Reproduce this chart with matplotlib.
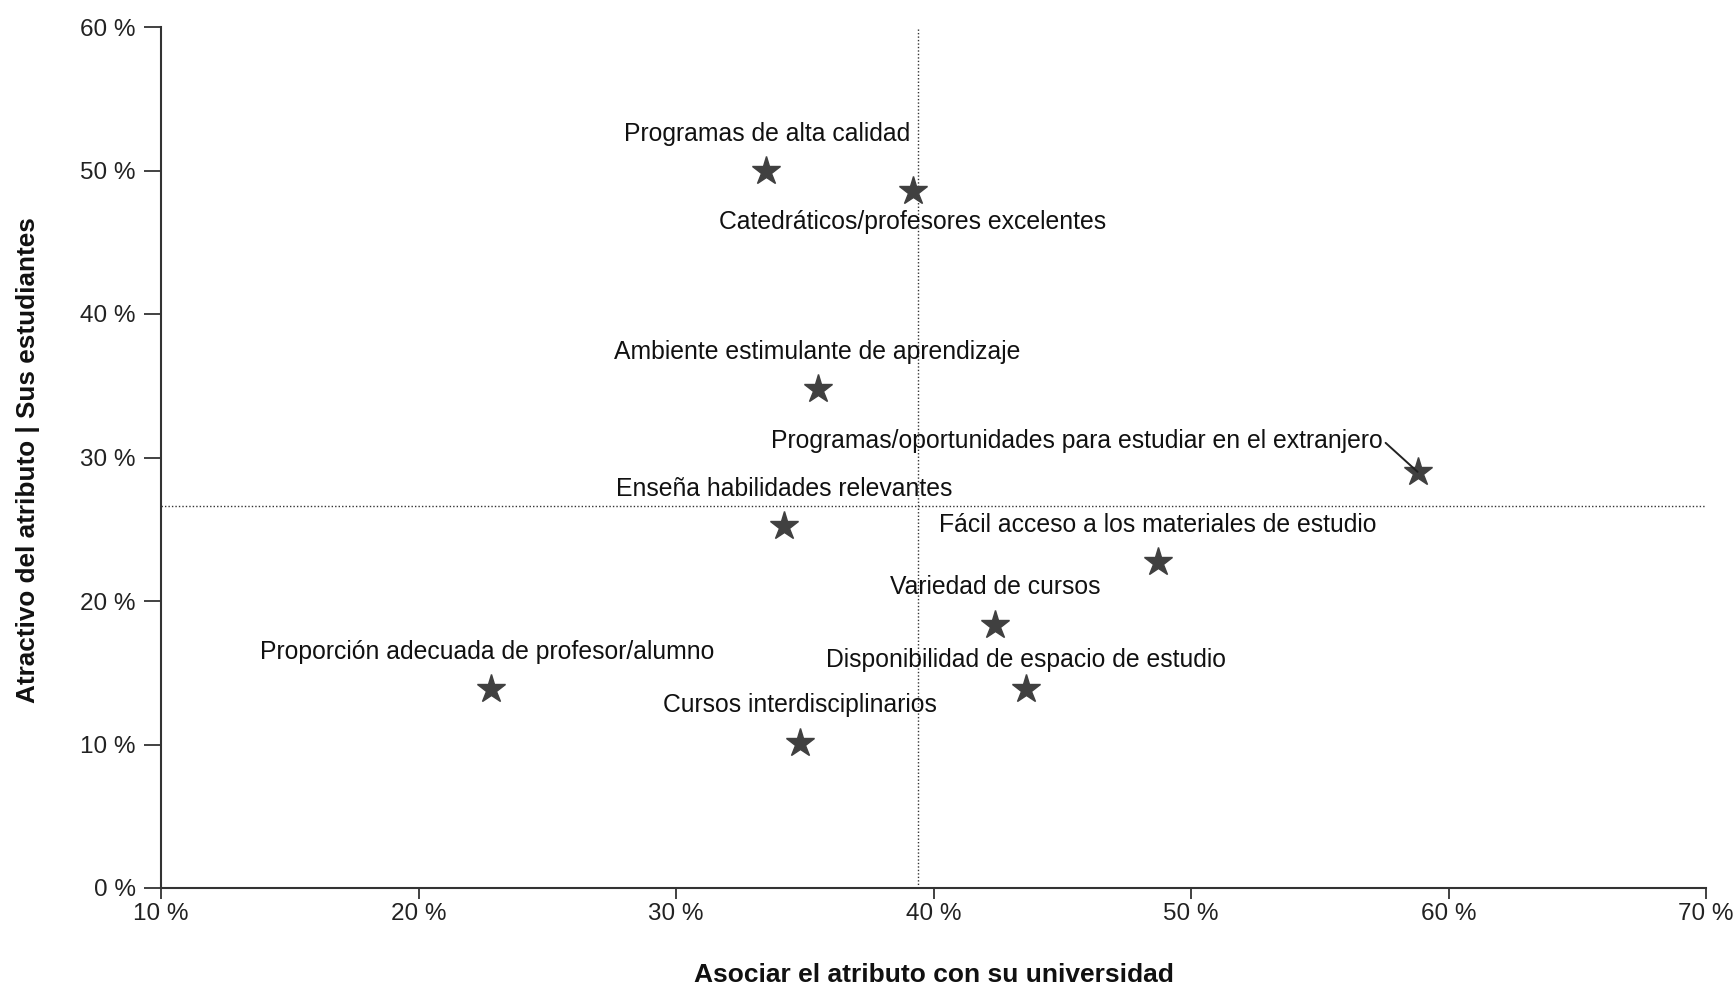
import matplotlib
matplotlib.use("Agg")
import matplotlib.pyplot as plt

# ---- data ----
labels = [
    "Programas de alta calidad",
    "Catedráticos/profesores excelentes",
    "Ambiente estimulante de aprendizaje",
    "Programas/oportunidades para estudiar en el extranjero",
    "Enseña habilidades relevantes",
    "Fácil acceso a los materiales de estudio",
    "Variedad de cursos",
    "Disponibilidad de espacio de estudio",
    "Proporción adecuada de profesor/alumno",
    "Cursos interdisciplinarios",
]
x_assoc = [33.5, 39.2, 35.5, 58.8, 34.2, 48.7, 42.4, 43.6, 22.8, 34.8]
y_attract = [50.0, 48.6, 34.8, 29.0, 25.2, 22.7, 18.3, 13.9, 13.9, 10.1]
x_mean = 39.4
y_mean = 26.6
x_ticks = [10, 20, 30, 40, 50, 60, 70]
y_ticks = [0, 10, 20, 30, 40, 50, 60]
x_title = "Asociar el atributo con su universidad"
y_title = "Atractivo del atributo | Sus estudiantes"

# label offsets in pixels (dx, dy) and alignment
offsets = [(1, 37), (0, -31), (0, 37), (-35, 31), (0, 37), (0, 37), (0, 38), (0, 29), (-3, 37), (0, 38)]
aligns = ["center", "center", "center", "right", "center", "center", "center", "center", "center", "center"]

plt.rcParams['font.family'] = ['Liberation Sans', 'DejaVu Sans']

fig = plt.figure(figsize=(17.34, 9.86), dpi=100)
ax = fig.add_axes([161/1734, 1 - 888/986, (1706-161)/1734, (888-27)/986])

ax.set_xlim(10, 70)
ax.set_ylim(0, 60)

ax.axvline(x_mean, color="#333333", lw=1.0, ls=(0, (1, 1.5)), zorder=1)
ax.axhline(y_mean, color="#333333", lw=1.0, ls=(0, (1, 1.5)), zorder=1)

ax.plot(x_assoc, y_attract, ls="none", marker="*", ms=21, color="#404040",
        markeredgecolor="#404040", zorder=3)

for lab, xv, yv, (dx, dy), ha in zip(labels, x_assoc, y_attract, offsets, aligns):
    ax.annotate(lab, (xv, yv), xytext=(dx, dy), textcoords="offset pixels",
                ha=ha, va="center", fontsize=17.8, color="#111111", zorder=4)
    if ha == "right":
        ax.annotate("", (xv, yv), xytext=(dx + 3, dy - 2), textcoords="offset pixels",
                    arrowprops=dict(arrowstyle="-", color="#222222", lw=1.4,
                                    shrinkA=0, shrinkB=0), zorder=4)

for side in ["top", "right"]:
    ax.spines[side].set_visible(False)
for side in ["left", "bottom"]:
    ax.spines[side].set_color("#333333")
    ax.spines[side].set_linewidth(1.5)

ax.set_xticks(x_ticks)
ax.set_xticklabels([f"{t} %" for t in x_ticks])
ax.set_yticks(y_ticks)
ax.set_yticklabels([f"{t} %" for t in y_ticks])
ax.tick_params(axis="x", length=8, width=1.3, color="#333333", labelsize=17.5,
               labelcolor="#222222", pad=3)
ax.tick_params(axis="y", length=12, width=1.3, color="#333333", labelsize=17.5,
               labelcolor="#222222", pad=6)

fig.text(0.5 * (161 + 1706) / 1734, 1 - 975 / 986, x_title, ha="center", va="center",
         fontsize=19, fontweight="bold", color="#111111")
fig.text(28 / 1734, 1 - 460 / 986, y_title, ha="center", va="center", rotation=90,
         fontsize=18.8, fontweight="bold", color="#111111")

fig.savefig("out.png", dpi=100, facecolor="white")
